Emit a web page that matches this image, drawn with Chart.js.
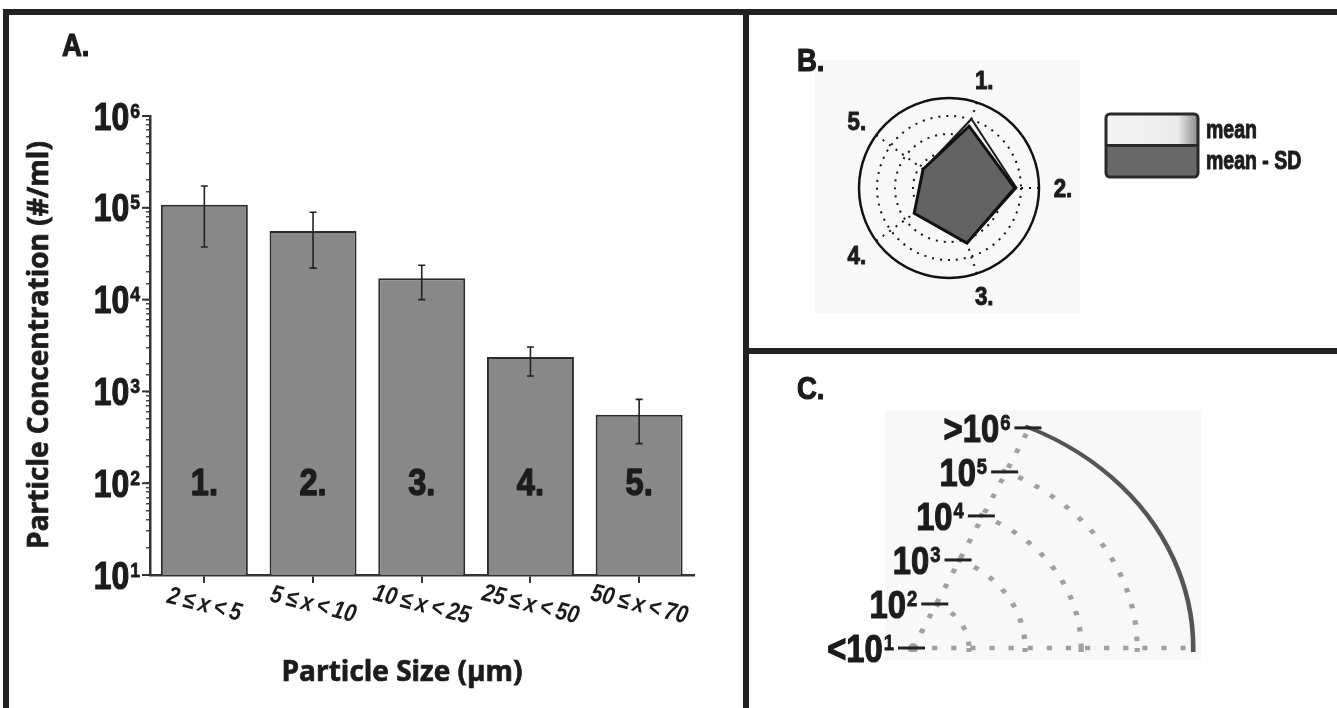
<!DOCTYPE html>
<html>
<head>
<meta charset="utf-8">
<script src="https://cdn.jsdelivr.net/npm/chart.js@4.4.1/dist/chart.umd.min.js"></script>
<style>
  html, body { margin: 0; padding: 0; background: #fff; overflow: hidden; }
  .wrap { position: relative; width: 1337px; height: 708px; overflow: hidden; }
  .layer { position: absolute; left: 0; top: 0; }
  .rule { position: absolute; background: #222; }
  .shade { position: absolute; background: #f8f8f8; }
</style>
</head>
<body>
<div class="wrap">
  <div class="shade" style="left:815px;top:60px;width:265px;height:253px"></div>
  <div class="shade" style="left:885px;top:410px;width:316px;height:250px"></div>
  <canvas id="chartA" class="layer" width="1337" height="708"></canvas>
  <canvas id="chartB" class="layer" width="1337" height="708"></canvas>
  <canvas id="chartC" class="layer" width="1337" height="1000"></canvas>
  <div class="rule" style="left:3px;top:9px;width:1334px;height:6px"></div>
  <div class="rule" style="left:3px;top:9px;width:6px;height:699px"></div>
  <div class="rule" style="left:743px;top:9px;width:6px;height:699px"></div>
  <div class="rule" style="left:749px;top:348px;width:588px;height:6px"></div>
</div>
<script>
/* particle size bins */
const sizeBins = ['2 ≤ x < 5', '5 ≤ x < 10', '10 ≤ x < 25', '25 ≤ x < 50', '50 ≤ x < 70'];
const binIds   = ['1.', '2.', '3.', '4.', '5.'];

/* concentrations (#/ml) */
const meanConc = [108000, 56000, 17100, 2370, 555];
const errUpper = [173000, 89500, 23700, 3050, 818];
const errLower = [37400, 22000, 10000, 1470, 270];
const decadeExps = [1, 2, 3, 4, 5, 6];

/* panel B: dark polygon */
const radarLowConc = [40700, 44700, 16600, 2450, 603];

/* panel C: ring labels of the zoomed wedge */
const wedgePrefix = ['<', '', '', '', '', '>'];
const wedgeExps   = [1, 2, 3, 4, 5, 6];

// no condensed face installed -> squeeze Liberation Sans sideways
const COND  = '"Liberation Sans", Arial, sans-serif';
const SQZ   = 0.84;
const WIDE  = '"Open Sans", "Noto Sans", sans-serif';
const INK   = '#1c1c1c';

function fillSqueezed(ctx, text, x, y, font, align, sx = SQZ, heavy = 0.9) {
  ctx.save();
  ctx.font = font;
  const w = ctx.measureText(text).width * sx;
  let x0 = x;
  if (align === 'center') x0 = x - w / 2;
  else if (align === 'right') x0 = x - w;
  ctx.translate(x0, y);
  ctx.scale(sx, 1);
  ctx.textAlign = 'left';
  ctx.fillText(text, 0, 0);
  if (heavy) {
    ctx.strokeStyle = ctx.fillStyle;
    ctx.lineWidth = heavy;
    ctx.lineJoin = 'round';
    ctx.strokeText(text, 0, 0);
  }
  ctx.restore();
  return w;
}

/* "10" with a raised exponent, right-aligned at xRight, centred on y */
function drawPow(ctx, xRight, y, prefix, exp, big, small) {
  ctx.save();
  ctx.textBaseline = 'alphabetic';
  ctx.fillStyle = INK;
  ctx.font = `bold ${small}px ${COND}`;
  const we = ctx.measureText(String(exp)).width * SQZ;
  ctx.font = `bold ${big}px ${COND}`;
  const base = prefix + '10';
  const wb = ctx.measureText(base).width * SQZ;
  const x0 = xRight - wb - we - 1;
  const baseY = y + big * 0.36;
  fillSqueezed(ctx, base, x0, baseY, `bold ${big}px ${COND}`, 'left', SQZ, 1.2);
  fillSqueezed(ctx, String(exp), x0 + wb + 1, baseY - big * 0.716 + small * 0.716,
    `bold ${small}px ${COND}`, 'left', SQZ, 0.8);
  ctx.restore();
}

/* ---------- A. bar chart ---------- */
const panelA = {
  id: 'panelA',
  afterDatasetsDraw(chart) {
    const { ctx, scales: { x, y } } = chart;
    ctx.save();
    ctx.strokeStyle = '#222';
    ctx.lineWidth = 1.6;
    meanConc.forEach((m, i) => {
      const px = x.getPixelForValue(i);
      const top = y.getPixelForValue(errUpper[i]);
      const bot = y.getPixelForValue(errLower[i]);
      ctx.beginPath();
      ctx.moveTo(px, top); ctx.lineTo(px, bot);
      ctx.moveTo(px - 3.5, top); ctx.lineTo(px + 3.5, top);
      ctx.moveTo(px - 3.5, bot); ctx.lineTo(px + 3.5, bot);
      ctx.stroke();
    });
    ctx.fillStyle = INK;
    ctx.textBaseline = 'alphabetic';
    binIds.forEach((t, i) =>
      fillSqueezed(ctx, t, x.getPixelForValue(i), y.getPixelForValue(100) + 12,
        `bold 37px ${COND}`, 'center', 0.88, 1.4));
    ctx.restore();
  },
  afterDraw(chart) {
    const { ctx, chartArea, scales: { x, y } } = chart;
    ctx.save();
    // major ticks + decade labels
    ctx.strokeStyle = '#333';
    ctx.lineWidth = 2;
    decadeExps.forEach(e => {
      const py = y.getPixelForValue(Math.pow(10, e));
      ctx.beginPath();
      ctx.moveTo(chartArea.left - 8, py);
      ctx.lineTo(chartArea.left, py);
      ctx.stroke();
      drawPow(ctx, 140, py, '', e, 38, 21);
    });
    // slanted size-bin labels
    ctx.fillStyle = INK;
    ctx.textBaseline = 'middle';
    sizeBins.forEach((t, i) => {
      ctx.save();
      ctx.translate(x.getPixelForValue(i), 605);
      ctx.rotate(14 * Math.PI / 180);
      fillSqueezed(ctx, t.replace(/ /g, '\u2009'), 0, 0, `bold italic 25px ${COND}`, 'center', 0.84, 0);
      ctx.restore();
    });
    // axis titles
    ctx.textAlign = 'center';
    ctx.textBaseline = 'middle';
    ctx.font = `bold 28px ${WIDE}`;
    ctx.strokeStyle = INK;
    ctx.lineWidth = 0.7;
    ctx.fillText('Particle Size (µm)', 402, 673);
    ctx.strokeText('Particle Size (µm)', 402, 673);
    ctx.save();
    ctx.translate(40, 345);
    ctx.rotate(-Math.PI / 2);
    ctx.fillText('Particle Concentration (#/ml)', 0, 0);
    ctx.strokeText('Particle Concentration (#/ml)', 0, 0);
    ctx.restore();
    // panel letter
    ctx.textBaseline = 'alphabetic';
    fillSqueezed(ctx, 'A.', 62, 56, `bold 32px ${COND}`, 'left', 0.86, 1.2);
    ctx.restore();
  }
};

new Chart(document.getElementById('chartA'), {
  type: 'bar',
  data: {
    labels: sizeBins,
    datasets: [{
      label: 'mean',
      data: meanConc,
      backgroundColor: '#888888',
      borderColor: '#2a2a2a',
      borderWidth: 2,
      barPercentage: 0.8,
      categoryPercentage: 1.0,
    }],
  },
  options: {
    responsive: false,
    animation: false,
    events: [],
    layout: { padding: { left: 0, top: 116, right: 643.5, bottom: 0 } },
    plugins: { legend: { display: false }, tooltip: { enabled: false } },
    scales: {
      x: {
        ticks: { display: false },
        grid: { drawOnChartArea: false, offset: false, tickLength: 8, color: '#333', lineWidth: 2 },
        border: { color: '#333', width: 2.5 },
        afterFit: s => { s.height = 133; },
      },
      y: {
        type: 'logarithmic',
        min: 10,
        max: 1000000,
        ticks: { display: false, autoSkip: false },
        grid: { drawOnChartArea: false, tickLength: 4, color: '#444', lineWidth: 1.5 },
        border: { color: '#333', width: 2.5 },
        afterFit: s => { s.width = 150; },
      },
    },
  },
  plugins: [panelA],
});

/* ---------- B. radar of log10 concentration ---------- */
const logAboveTen = v => Math.log10(v) - 1;

const panelB = {
  id: 'panelB',
  afterDraw(chart) {
    const { ctx } = chart;
    const r = chart.scales.r;
    ctx.save();
    ctx.fillStyle = INK;
    ctx.textBaseline = 'alphabetic';
    chart.data.labels.forEach((t, i) => {
      const p = r.getPointPosition(i, r.drawingArea + 24);
      fillSqueezed(ctx, t, p.x, p.y + 9, `bold 26px ${COND}`, 'center', 0.86, 1);
    });

    // legend box
    const lx = 1106, ly = 114, lw = 92, lh = 63;
    const g = ctx.createLinearGradient(lx, 0, lx + lw, 0);
    g.addColorStop(0, '#f4f4f4');
    g.addColorStop(0.78, '#ebebeb');
    g.addColorStop(1, '#8c8c8c');
    ctx.fillStyle = g;
    ctx.fillRect(lx, ly, lw, lh / 2);
    ctx.fillStyle = '#686868';
    ctx.fillRect(lx, ly + lh / 2, lw, lh / 2);
    ctx.strokeStyle = '#2a2a2a';
    ctx.lineWidth = 3;
    ctx.beginPath();
    ctx.roundRect(lx, ly, lw, lh, 4);
    ctx.moveTo(lx, ly + lh / 2);
    ctx.lineTo(lx + lw, ly + lh / 2);
    ctx.stroke();

    ctx.fillStyle = INK;
    chart.data.datasets.forEach((ds, i) => {
      fillSqueezed(ctx, ds.label, 1206, ly + lh / 4 + i * lh / 2 + 8, `bold 25px ${COND}`, 'left', 0.78, 1);
    });

    fillSqueezed(ctx, 'B.', 797, 71, `bold 32px ${COND}`, 'left', 0.86, 1.2);
    ctx.restore();
  }
};

new Chart(document.getElementById('chartB'), {
  type: 'radar',
  data: {
    labels: binIds,
    datasets: [
      {
        label: 'mean',
        data: meanConc.map(logAboveTen),
        backgroundColor: '#f2f2f2',
        borderColor: '#1c1c1c',
        borderWidth: 2,
        pointRadius: 0,
        order: 1,
      },
      {
        label: 'mean - SD',
        data: radarLowConc.map(logAboveTen),
        backgroundColor: '#626262',
        borderColor: '#111',
        borderWidth: 3,
        pointRadius: 0,
        order: 0,
      },
    ],
  },
  options: {
    responsive: false,
    animation: false,
    events: [],
    layout: { padding: { left: 859, top: 98, right: 298, bottom: 430 } },
    plugins: { legend: { display: false }, tooltip: { enabled: false } },
    scales: {
      r: {
        z: 1, // dotted grid shows on top of the polygons, as in the original
        min: 0,
        max: 5,
        startAngle: 18,
        ticks: { display: false, stepSize: 1 },
        pointLabels: { display: false },
        grid: { circular: true, color: '#111', lineWidth: c => (c.index === 5 ? 2.5 : 2) },
        border: { dash: c => (c.index === 5 ? [] : [2, 6]) },
        angleLines: { color: '#111', lineWidth: 2, borderDash: [2, 6] },
      },
    },
  },
  plugins: [panelB],
});

/* ---------- C. one wedge of the radial scale, enlarged ---------- */
// 11 spokes so that spokes 0 and 2 bound the ~65 deg wedge the inset shows;
// the wedge is drawn slightly stretched sideways like the original
const WEDGE_STRETCH = 1.158;
const WEDGE_SPOKES = 11;

const panelC = {
  id: 'panelC',
  beforeDraw(chart) {
    const { ctx } = chart;
    const r = chart.scales.r;
    const cx = r.xCenter, cy = r.yCenter, R = r.drawingArea;
    const a0 = (chart.options.scales.r.startAngle - 90) * Math.PI / 180;
    const d = { x: Math.cos(a0), y: Math.sin(a0) };
    const n = { x: d.y, y: -d.x };
    ctx.save();
    ctx.translate(cx, cy);
    ctx.scale(WEDGE_STRETCH, 1);
    ctx.translate(-cx, -cy);
    ctx.beginPath();
    ctx.moveTo(cx - 8, cy + 4);
    ctx.lineTo(cx + R + 14, cy + 4);
    ctx.lineTo(cx + R + 14, cy - R - 14);
    ctx.lineTo(cx + 4 * n.x + (R + 20) * d.x, cy + 4 * n.y + (R + 20) * d.y);
    ctx.lineTo(cx + 4 * n.x, cy + 4 * n.y);
    ctx.closePath();
    ctx.clip();
  },
  afterDraw(chart) {
    const { ctx } = chart;
    ctx.restore();
    const r = chart.scales.r;
    const cx = r.xCenter;
    ctx.save();
    ctx.strokeStyle = '#222';
    ctx.lineWidth = 3;
    wedgeExps.forEach((e, k) => {
      const p = r.getPointPosition(0, r.getDistanceFromCenterForValue(k));
      const px = cx + (p.x - cx) * WEDGE_STRETCH;
      ctx.beginPath();
      ctx.moveTo(px - 15, p.y);
      ctx.lineTo(px + 12, p.y);
      ctx.stroke();
      drawPow(ctx, px - 19, p.y, wedgePrefix[k], e, 39, 22);
    });
    ctx.fillStyle = INK;
    ctx.textBaseline = 'alphabetic';
    fillSqueezed(ctx, 'C.', 797, 399, `bold 32px ${COND}`, 'left', 0.86, 1.2);
    ctx.restore();
  }
};

new Chart(document.getElementById('chartC'), {
  type: 'radar',
  data: { labels: new Array(WEDGE_SPOKES).fill(''), datasets: [] },
  options: {
    responsive: false,
    animation: false,
    events: [],
    layout: { padding: { left: 671, top: 406, right: 182, bottom: 110 } },
    plugins: { legend: { display: false }, tooltip: { enabled: false } },
    scales: {
      r: {
        min: 0,
        max: 5,
        startAngle: 24.55,
        ticks: { display: false, stepSize: 1 },
        pointLabels: { display: false },
        grid: {
          circular: true,
          color: c => (c.index === 5 ? '#555' : '#a0a0a0'),
          lineWidth: c => (c.index === 5 ? 4 : 4.5),
        },
        border: { dash: c => (c.index === 5 ? [] : [4.5, 12]) },
        angleLines: {
          color: '#a0a0a0',
          lineWidth: c => (c.index === 1 ? 0 : 4.5),
          borderDash: [4.5, 12],
        },
      },
    },
  },
  plugins: [panelC],
});
</script>
</body>
</html>
